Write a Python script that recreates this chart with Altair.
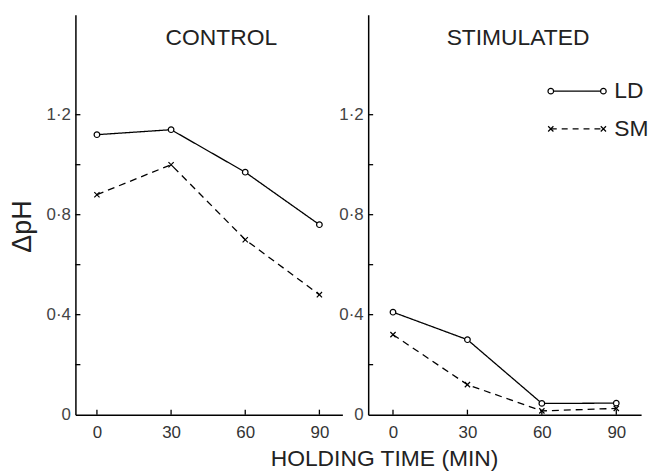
import altair as alt
import pandas as pd

# Holding time (min) and ΔpH readings for each condition and series
times = [0, 30, 60, 90]
control_ld = [1.12, 1.14, 0.97, 0.76]
control_sm = [0.88, 1.00, 0.70, 0.48]
stim_ld = [0.41, 0.30, 0.045, 0.046]
stim_sm = [0.32, 0.12, 0.015, 0.025]
series = ["LD", "SM"]
y_ticks = [0.2, 0.4, 0.6, 0.8, 1.0, 1.2]
y_labels = [0, 0.4, 0.8, 1.2]

FONT = "Liberation Sans"
H = 403
YDOM = [0, 1.6]
X_CROSS = "M-1,-1L1,1M-1,1L1,-1"
CIRCLE = dict(shape="circle", filled=True, fill="white", stroke="black",
              strokeWidth=1.2, size=32, opacity=1)
CROSS = dict(shape=X_CROSS, filled=False, stroke="black", strokeWidth=1.2,
             size=28, opacity=1)


def panel(name, ld, sm, first, width, xdom, title_x):
    df = pd.DataFrame({
        "t": times * 2,
        "v": ld + sm,
        "s": [series[0]] * 4 + [series[1]] * 4,
    })
    x_kwargs = dict(
        values=times, ticks=False, grid=False, labelPadding=10,
        labelFontSize=17, labelColor="#333", labelFont=FONT,
        domainColor="black", domainWidth=1.5,
    )
    if first:
        x_axis = alt.Axis(
            title="HOLDING TIME (MIN)", titleX=311, titleY=44,
            titleAlign="center", titleBaseline="middle",
            titleFont=FONT, titleFontSize=23, titleFontWeight="normal",
            titleColor="#222", **x_kwargs,
        )
    else:
        x_axis = alt.Axis(title=None, **x_kwargs)
    y_kwargs = dict(
        values=y_labels, ticks=False, grid=False, labelPadding=5,
        labelFontSize=17, labelColor="#444", labelFont=FONT,
        labelExpr="datum.value == 0 ? '0' : replace(format(datum.value, '.1f'), '.', '·')",
        domainColor="black", domainWidth=1.5,
    )
    if first:
        y_axis = alt.Axis(
            title="ΔpH", titleX=-53, titleY=213, titleAngle=270,
            titleAlign="center", titleBaseline="middle",
            titleFont=FONT, titleFontSize=27, titleFontWeight="normal",
            titleColor="#222", **y_kwargs,
        )
    else:
        y_axis = alt.Axis(title=None, **y_kwargs)

    xs = alt.Scale(domain=xdom, nice=False, zero=False)
    ys = alt.Scale(domain=YDOM, nice=False)
    X = alt.X("t:Q", scale=xs, axis=x_axis)
    Y = alt.Y("v:Q", scale=ys, axis=y_axis)

    base = alt.Chart(df)
    lines = base.mark_line(color="black", strokeWidth=1.3).encode(
        x=X, y=Y, detail="s:N",
        strokeDash=alt.StrokeDash(
            "s:N", scale=alt.Scale(domain=series, range=[[1, 0], [7, 5]]),
            legend=None,
        ),
    )
    circles = base.transform_filter(alt.datum.s == "LD").mark_point(**CIRCLE).encode(x=X, y=Y)
    crosses = base.transform_filter(alt.datum.s == "SM").mark_point(**CROSS).encode(x=X, y=Y)

    # inward-pointing tick marks on both axes
    yt = alt.Chart(pd.DataFrame({"v": y_ticks})).mark_rule(
        color="black", strokeWidth=1.3
    ).encode(y=Y, x=alt.value(0), x2=alt.value(5))
    xt = alt.Chart(pd.DataFrame({"t": times})).mark_rule(
        color="black", strokeWidth=1.3
    ).encode(x=X, y=alt.value(H), y2=alt.value(H - 5))

    title = alt.Chart(pd.DataFrame({"label": [name]})).mark_text(
        font=FONT, fontSize=23, color="#222", align="center", baseline="middle",
    ).encode(text="label:N", x=alt.value(title_x), y=alt.value(24))

    layers = [lines, circles, crosses, yt, xt, title]

    if not first:
        lx1, lx2, tx = 184, 237, 248
        for name_s, yy, dash, sym in [("LD", 77, [1, 0], CIRCLE), ("SM", 115, [6, 5], CROSS)]:
            one = alt.Chart(pd.DataFrame({"s": [name_s]}))
            layers.append(one.mark_rule(color="black", strokeWidth=1.2, strokeDash=dash)
                          .encode(x=alt.value(lx1), x2=alt.value(lx2), y=alt.value(yy)))
            for px in (lx1, lx2):
                layers.append(one.mark_point(**sym).encode(x=alt.value(px), y=alt.value(yy)))
            layers.append(one.mark_text(font=FONT, fontSize=23, color="#222", align="left",
                                        baseline="middle")
                          .encode(text="s:N", x=alt.value(tx), y=alt.value(yy)))

    return alt.layer(*layers).properties(width=width, height=H)


chart = alt.hconcat(
    panel("CONTROL", control_ld, control_sm, True, 269, [-8.7, 99.3], 147),
    panel("STIMULATED", stim_ld, stim_sm, False, 275, [-10, 100], 151),
    spacing=26, bounds="flush",
).properties(
    padding={"left": 9, "top": 13, "right": 5, "bottom": 5},
    background="white",
).configure_view(stroke=None)

chart.save("out.html", embed_options={"renderer": "svg", "actions": False})
